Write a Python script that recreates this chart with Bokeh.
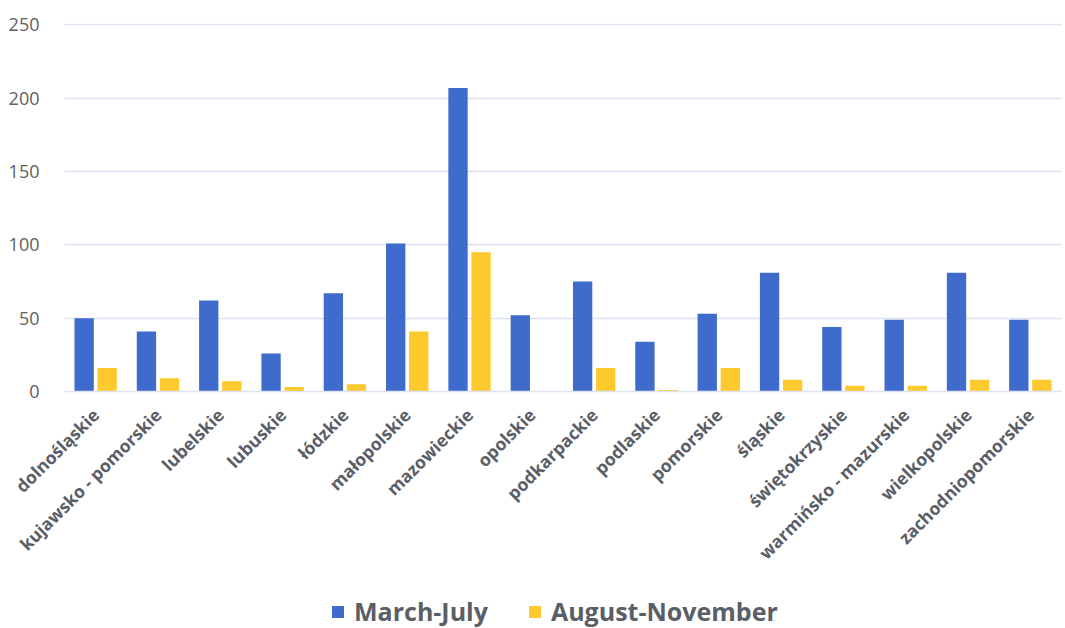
from bokeh.plotting import figure
from bokeh.models import FactorRange, Legend, LegendItem, SingleIntervalTicker
from bokeh.layouts import column
from bokeh.transform import dodge
from bokeh.embed import file_html
from bokeh.resources import INLINE
from bokeh.models import ColumnDataSource
import math

regions = ["dolnośląskie", "kujawsko - pomorskie", "lubelskie", "lubuskie", "łódzkie",
           "małopolskie", "mazowieckie", "opolskie", "podkarpackie", "podlaskie",
           "pomorskie", "śląskie", "świętokrzyskie", "warmińsko - mazurskie",
           "wielkopolskie", "zachodniopomorskie"]
march_july = [50, 41, 62, 26, 67, 101, 207, 52, 75, 34, 53, 81, 44, 49, 81, 49]
august_november = [16, 9, 7, 3, 5, 41, 95, 0, 16, 1, 16, 8, 4, 4, 8, 8]
series_names = ["March-July", "August-November"]

BLUE = "#3f6bcc"
YELLOW = "#fdc92e"
TEXT = "#5a5e66"

src = ColumnDataSource(dict(cat=regions, a=march_july, b=august_november))

p = figure(x_range=FactorRange(*regions, range_padding=0), y_range=(0, 251),
           width=1065, height=580, output_backend="svg", toolbar_location=None,
           min_border_left=64, min_border_right=4, min_border_top=23,
           min_border_bottom=189)
p.outline_line_color = None

p.vbar(x=dodge("cat", -0.185, range=p.x_range), top="a", width=0.31, source=src,
       fill_color=BLUE, line_color=None)
p.vbar(x=dodge("cat", 0.185, range=p.x_range), top="b", width=0.31, source=src,
       fill_color=YELLOW, line_color=None)

p.xgrid.grid_line_color = None
p.ygrid.grid_line_color = "#dde1f1"
p.ygrid.grid_line_width = 1.5
p.yaxis.ticker = SingleIntervalTicker(interval=50)
p.yaxis.axis_line_color = None
p.yaxis.major_tick_line_color = None
p.yaxis.minor_tick_line_color = None
p.yaxis.major_label_text_font = "Open Sans"
p.yaxis.major_label_text_font_size = "18px"
p.yaxis.major_label_text_color = "#606060"
p.yaxis.major_label_standoff = 19

p.xaxis.axis_line_color = "#dde1f1"
p.xaxis.axis_line_width = 1.5
p.xaxis.major_tick_line_color = None
p.xaxis.minor_tick_line_color = None
p.xaxis.major_label_orientation = math.pi / 4
p.xaxis.major_label_text_font = "Open Sans"
p.xaxis.major_label_text_font_style = "bold"
p.xaxis.major_label_text_font_size = "17.5px"
p.xaxis.major_label_text_color = TEXT
p.xaxis.major_label_standoff = 14

# legend strip below the chart (zero-height swatch renderers only feed the legend)
lf = figure(width=1065, height=48, x_range=(0, 1), y_range=(0, 1),
            output_backend="svg", toolbar_location=None,
            x_axis_type=None, y_axis_type=None,
            min_border_left=0, min_border_right=0, min_border_top=0, min_border_bottom=0)
lf.outline_line_color = None
lf.xgrid.grid_line_color = None
lf.ygrid.grid_line_color = None
d1 = lf.vbar(x=[0.5], top=[0], bottom=[0], width=0.01, fill_color=BLUE, line_color=None)
d2 = lf.vbar(x=[0.5], top=[0], bottom=[0], width=0.01, fill_color=YELLOW, line_color=None)

legend = Legend(items=[LegendItem(label=series_names[0], renderers=[d1]),
                       LegendItem(label=series_names[1], renderers=[d2])],
                orientation="horizontal", location=(266, 0),
                border_line_color=None, background_fill_alpha=0,
                label_text_font="Open Sans", label_text_font_style="bold",
                label_text_font_size="25px", label_text_color=TEXT,
                glyph_width=15, glyph_height=15, spacing=39, label_standoff=9,
                margin=0, padding=0)
lf.add_layout(legend, "center")

layout = column(p, lf, spacing=0)
open("out.html", "w").write(file_html(layout, INLINE))
